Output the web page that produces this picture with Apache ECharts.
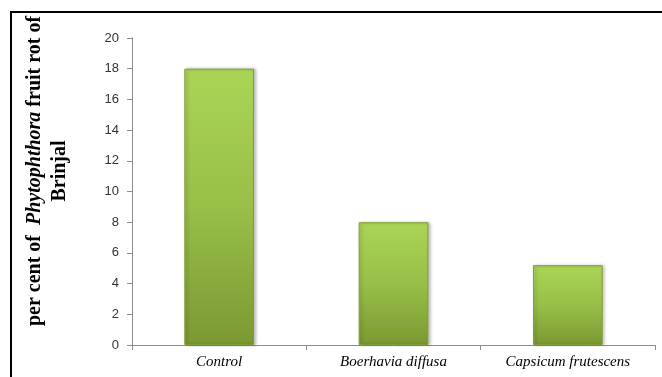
<!DOCTYPE html>
<html>
<head>
<meta charset="utf-8">
<style>
  html, body { margin: 0; padding: 0; background: #fff; }
  #chart { width: 662px; height: 377px; }
</style>
<script src="https://cdn.jsdelivr.net/npm/echarts@6/dist/echarts.min.js"></script>
</head>
<body>
<div id="chart"></div>
<script>
// Treatments and the per cent fruit rot recorded for each
const categories = ['Control', 'Boerhavia diffusa', 'Capsicum frutescens'];
const rotPercent = [18, 8, 5.2];
const yTicks = { min: 0, max: 20, interval: 2 };

const chart = echarts.init(document.getElementById('chart'));

const barFill = new echarts.graphic.LinearGradient(0, 0, 0, 1, [
  { offset: 0, color: '#aad556' },
  { offset: 0.5, color: '#98bf48' },
  { offset: 1, color: '#7b9932' }
]);

const serifBold = { fontFamily: 'Liberation Serif', fontWeight: 'bold', fontSize: 20, fill: '#000', lineHeight: 25 };

chart.setOption({
  animation: false,
  backgroundColor: '#fff',
  grid: { left: 132, right: 7, top: 38, bottom: 32, outerBoundsMode: 'none', containLabel: false },
  graphic: [
    { type: 'line', shape: { x1: 11, y1: 12, x2: 662, y2: 12 }, style: { stroke: '#000', lineWidth: 2 } },
    { type: 'line', shape: { x1: 11, y1: 11, x2: 11, y2: 377 }, style: { stroke: '#000', lineWidth: 2 } },
    {
      type: 'text',
      x: 47, y: 171,
      rotation: Math.PI / 2,
      style: {
        text: '{b|per cent of  }{bi|Phytophthora}{b| fruit rot of}\n{b|Brinjal}',
        align: 'center',
        verticalAlign: 'middle',
        rich: {
          b: serifBold,
          bi: Object.assign({}, serifBold, { fontStyle: 'italic' })
        }
      }
    }
  ],
  xAxis: {
    type: 'category',
    data: categories,
    axisLine: { lineStyle: { color: '#8c8c8c', width: 1 } },
    axisTick: { show: true, length: 5, alignWithLabel: false, lineStyle: { color: '#8c8c8c' } },
    axisLabel: {
      fontFamily: 'Liberation Serif', fontStyle: 'italic', fontSize: 15,
      color: '#000', margin: 10
    }
  },
  yAxis: {
    type: 'value',
    min: yTicks.min, max: yTicks.max, interval: yTicks.interval,
    splitLine: { show: false },
    axisLine: { show: true, lineStyle: { color: '#8c8c8c', width: 1 } },
    axisTick: { show: true, length: 5, lineStyle: { color: '#8c8c8c' } },
    axisLabel: { fontFamily: 'Liberation Sans', fontSize: 13, color: '#333', margin: 13 }
  },
  series: [{
    type: 'bar',
    data: rotPercent,
    barWidth: '40%',
    itemStyle: {
      color: barFill,
      borderColor: '#7f9e36',
      borderWidth: 1,
      shadowColor: 'rgba(0,0,0,0.25)',
      shadowBlur: 3,
      shadowOffsetX: 2
    }
  }]
});
</script>
</body>
</html>
